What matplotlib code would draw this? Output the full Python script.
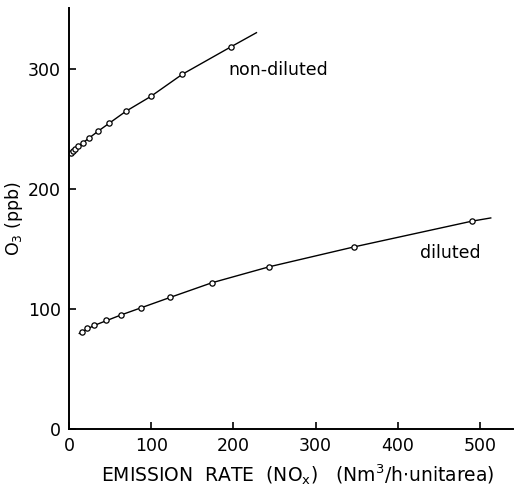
import matplotlib
matplotlib.use('Agg')
import matplotlib.pyplot as plt

# non-diluted case: measured points + fitted curve
nd_x = [2.4, 4.5, 7.3, 11.3, 16.7, 24.7, 34.9, 49.0, 69.3, 99.4, 137.8, 196.7]
nd_y = [230.3, 231.9, 233.9, 236.1, 238.6, 242.8, 248.1, 255.0, 265.0, 277.3, 295.8, 318.6]
nd_fit_x = [1.5, 2.4, 7.3, 16.7, 34.9, 69.3, 99.4, 137.8, 196.7, 228]
nd_fit_y = [229.5, 230.3, 233.9, 238.6, 248.1, 265.0, 277.3, 295.8, 318.6, 330.5]

# diluted case
d_x = [15.8, 22.3, 30.8, 45.0, 62.9, 87.6, 122.9, 173.6, 243.7, 347.0, 490.0]
d_y = [81.1, 83.9, 86.4, 90.6, 95.0, 101.1, 109.7, 121.9, 135.3, 151.9, 173.3]
d_fit_x = [12.5, 15.8, 30.8, 62.9, 122.9, 173.6, 243.7, 347.0, 490.0, 513]
d_fit_y = [79.7, 81.1, 86.4, 95.0, 109.7, 121.9, 135.3, 151.9, 173.3, 176.0]

xticks = [0, 100, 200, 300, 400, 500]
yticks = [0, 100, 200, 300]

fig = plt.figure(figsize=(5.15, 4.94), dpi=100)
ax = fig.add_axes([0.134, 0.1316, 0.862, 0.852])

ax.plot(nd_fit_x, nd_fit_y, '-', color='black', lw=1.0)
ax.plot(nd_x, nd_y, 'o', ms=3.8, mfc='white', mec='black', mew=0.9)
ax.plot(d_fit_x, d_fit_y, '-', color='black', lw=1.0)
ax.plot(d_x, d_y, 'o', ms=3.8, mfc='white', mec='black', mew=0.9)

ax.text(194, 299, 'non-diluted', fontsize=12.5, va='center', ha='left')
ax.text(427, 147, 'diluted', fontsize=12.5, va='center', ha='left')

ax.set_xlim(0, 540)
ax.set_ylim(0, 351)
ax.set_xticks(xticks)
ax.set_yticks(yticks)
for s in ('top', 'right'):
    ax.spines[s].set_visible(False)
for s in ('left', 'bottom'):
    ax.spines[s].set_linewidth(1.4)
ax.tick_params(direction='in', length=5, width=1.2, labelsize=12.5)
ax.tick_params(axis='y', pad=6)
ax.tick_params(axis='x', pad=6)

ax.set_xlabel(r'EMISSION  RATE  (NO$_{\mathregular{x}}$)   (Nm$^{\mathregular{3}}$/h$\cdot$unitarea)',
              fontsize=13.5, labelpad=5, x=0.515)
ax.set_ylabel(r'O$_{\mathregular{3}}$ (ppb)', fontsize=12.5, labelpad=2)

fig.savefig('out.png', dpi=100)
